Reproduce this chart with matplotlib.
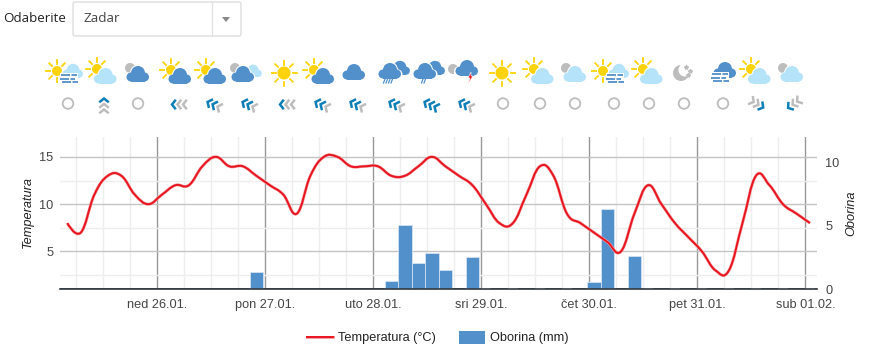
import numpy as np
import matplotlib
matplotlib.use('Agg')
import matplotlib.pyplot as plt
from matplotlib.path import Path
from matplotlib.patches import PathPatch, Circle, Rectangle, FancyBboxPatch, Polygon

temps = [8, 7, 11, 13, 13, 11, 10, 11, 12, 12, 14, 15, 14, 14, 13, 12, 11, 9, 13, 15, 15, 14, 14, 14, 13, 13, 14, 15,
         14, 13, 12, 10, 8, 8, 11, 14, 13, 9, 8, 7, 6, 5, 9, 12, 10, 8, 6.5, 5, 3, 3, 8, 13, 12, 10, 9, 8]
rain_k = [14, 24, 25, 26, 27, 28, 30, 39, 40, 42]
rain = [1.36, 0.66, 5.07, 2.07, 2.86, 1.52, 2.55, 0.58, 6.33, 2.63]
trace_k = [31, 33, 35, 37, 43, 45, 47, 49, 51, 53, 55]
trace = [0.08] * len(trace_k)
hours = np.array([-20 + 3 * i for i in range(len(temps))], dtype=float)
day_labels = ['ned 26.01.', 'pon 27.01.', 'uto 28.01.', 'sri 29.01.', 'čet 30.01.', 'pet 31.01.', 'sub 01.02.']
weather = ['sunfog', 'sunlight', 'moonblue', 'sunblue', 'sunblue', 'moonboth', 'sun', 'sunblue', 'blue', 'rain', 'sleet',
           'storm', 'sun', 'sunlight', 'moonlight', 'sunfog', 'sunlight', 'night', 'bluefog', 'sunlight', 'moonlight']
weather_x = [67, 102, 137, 176, 211, 246, 284, 319, 354, 393, 428, 463, 502, 539, 574, 613, 648, 683, 722, 756, 791]
wind = ['o', 'u', 'o', 'l', 'ul', 'ul', 'l', 'ul', 'ul', 'ul', 'ulb', 'ul', 'o', 'o', 'o', 'o', 'o', 'o', 'o', 'dr', 'dl']

BLUE = '#5290cc'
LIGHT = '#b5e3fa'
YEL = '#ffd30a'
GRAY = '#bdbdbd'
WIND = '#0f7fb8'
FONT = 'Liberation Sans'
W, H = 873, 353

fig = plt.figure(figsize=(8.73, 3.53), dpi=100)
ax = fig.add_axes([60.3 / W, 1 - 289.3 / H, (817 - 60.3) / W, (289.3 - 137) / H])
ax.set_ylim(1, 17.1)
ax.set_yticks([5, 10, 15])
ax.set_yticks([2.5, 7.5, 12.5], minor=True)
ax.set_xticks(np.arange(7) * 24)
ax.set_xticklabels(day_labels, fontsize=9.2, family=FONT, color='#444444')
ax.set_xticks([h for h in np.arange(-18, 156, 6) if h % 24 != 0], minor=True)
ax.grid(True, which='major', axis='y', color='#c4c4c4', lw=1)
ax.grid(True, which='major', axis='x', color='#999999', lw=1)
ax.grid(True, which='minor', color='#eeeeee', lw=1)
ax.set_axisbelow(True)
for s in ['top', 'left', 'right']:
    ax.spines[s].set_visible(False)
ax.spines['bottom'].set_color('#333a40')
ax.spines['bottom'].set_linewidth(1.2)
ax.tick_params(which='both', length=0)
ax.tick_params(axis='x', pad=7)
ax.tick_params(axis='y', labelsize=9.2, labelcolor='#444444', pad=5)
for t in ax.get_yticklabels():
    t.set_family(FONT)

ax2 = ax.twinx()
ax2.set_ylim(0, 12)
ax2.set_yticks([0, 5, 10])
ax2.tick_params(length=0, labelsize=9.2, labelcolor='#444444', pad=6)
for t in ax2.get_yticklabels():
    t.set_family(FONT)
for s in ax2.spines.values():
    s.set_visible(False)
ax2.bar(hours[rain_k], rain, width=3, color=BLUE, edgecolor='#dce8f4', linewidth=0.5, zorder=2)
ax2.bar(hours[trace_k], trace, width=2.4, bottom=0.06, color='#e4edf6', linewidth=0, zorder=2)


def spline_path(x, y, smooth=1.5):
    # same control point rule as the highcharts spline
    verts = [(x[0], y[0])]
    codes = [Path.MOVETO]
    right = (x[0], y[0])
    for i in range(1, len(x)):
        if i < len(x) - 1:
            lx = (smooth * x[i] + x[i - 1]) / (smooth + 1)
            ly = (smooth * y[i] + y[i - 1]) / (smooth + 1)
            rx = (smooth * x[i] + x[i + 1]) / (smooth + 1)
            ry = (smooth * y[i] + y[i + 1]) / (smooth + 1)
            if rx != lx:
                c = (ry - ly) / (rx - lx)
                ly = ly + (y[i] - (ly + c * (x[i] - lx)))
                ry = ry + (y[i] - (ry + c * (x[i] - rx)))
        else:
            lx, ly = x[i], y[i]
            rx, ry = x[i], y[i]
        verts += [right, (lx, ly), (x[i], y[i])]
        codes += [Path.CURVE4] * 3
        right = (rx, ry)
    return Path(verts, codes)


# line goes above the bars, so it lives on a third overlay
ax3 = ax.twinx()
ax3.set_ylim(ax.get_ylim())
ax3.axis('off')
ax3.axhline(1, color='#333a40', lw=1.2, zorder=2.5)
p = spline_path(list(hours), temps)
ax3.add_patch(PathPatch(p, fc='none', ec='#f5a3a6', lw=2.2, zorder=3))
ax3.add_patch(PathPatch(p, fc='none', ec='#e8141f', lw=1.4, zorder=4))

# twins and bars mess with the shared limits, set them last
ax.set_xlim(-20 - 0.52 * 3, -20 + 55.52 * 3)

# page layer in pixels for the widgets and icons
pg = fig.add_axes([0, 0, 1, 1], zorder=5)
pg.set_xlim(0, W)
pg.set_ylim(H, 0)
pg.axis('off')


def cloud(cx, cy, s, col, z=6, ring=False):
    if ring:
        cloud(cx, cy, s * 1.14, 'white', z - 0.2)
    for dx, dy, r in [(-7, 3, 4.5), (0, -1, 7), (6.5, 3, 4.5)]:
        pg.add_patch(Circle((cx + dx * s, cy + dy * s), r * s, fc=col, ec='none', zorder=z))
    pg.add_patch(Rectangle((cx - 7 * s, cy + 1 * s), 13.5 * s, 6.5 * s, fc=col, ec='none', zorder=z))


def sun(cx, cy, r=6.5, ray=4):
    pg.add_patch(Circle((cx, cy), r, fc=YEL, ec='none', zorder=5))
    for a in np.arange(8) * np.pi / 4:
        pg.plot([cx + (r + 2) * np.cos(a), cx + (r + 2 + ray) * np.cos(a)],
                [cy + (r + 2) * np.sin(a), cy + (r + 2 + ray) * np.sin(a)], color=YEL, lw=1.3, zorder=5)


def fog(cx, cy):
    for i, (a, b) in enumerate([(-8, 8), (-9, 6), (-7, 9)]):
        pg.plot([cx + a, cx + b], [cy + i * 3.6, cy + i * 3.6], color=BLUE, lw=1.3, ls=(0, (5, 0.8)), zorder=7)


def moon(cx, cy, r=6):
    pg.add_patch(Circle((cx, cy), r, fc=GRAY, ec='none', zorder=4))


def weather_icon(kind, x, y=73):
    if kind == 'sun':
        sun(x, y)
    elif kind == 'sunlight':
        sun(x - 5, y - 4, 5, 4)
        cloud(x + 3.5, y + 3, 1, LIGHT, ring=True)
    elif kind == 'sunblue':
        sun(x - 5, y - 3, 5, 4)
        cloud(x + 4, y + 3, 1, BLUE, ring=True)
    elif kind == 'sunfog':
        sun(x - 10, y - 2, 5, 4)
        cloud(x + 6, y - 2, 0.9, LIGHT, ring=True)
        pg.add_patch(Rectangle((x - 7, y), 18, 11, fc='white', ec='none', zorder=6.5))
        fog(x + 2, y + 2)
    elif kind == 'moonblue':
        moon(x - 7, y - 5, 5)
        cloud(x + 1, y + 1, 1, BLUE, ring=True)
    elif kind == 'moonlight':
        moon(x - 8, y - 5, 5)
        cloud(x + 1, y + 1, 1, LIGHT, ring=True)
    elif kind == 'moonboth':
        moon(x - 11, y - 5, 5)
        cloud(x + 7, y - 2, 0.8, LIGHT, 5)
        cloud(x - 3, y + 1, 1, BLUE, ring=True)
    elif kind == 'blue':
        cloud(x, y - 1, 1, BLUE)
    elif kind in ('rain', 'sleet'):
        cloud(x + 7, y - 5, 0.9, BLUE, 5)
        cloud(x - 3, y - 2, 1, BLUE, ring=True)
        xs = np.arange(-8, 2, 2.5) if kind == 'rain' else np.arange(-5, 0, 2.5)
        for dx in xs:
            pg.plot([x + dx, x + dx - 1.5], [y + 6, y + 10], color=BLUE, lw=0.9, zorder=7)
    elif kind == 'storm':
        moon(x - 10, y - 4, 5)
        cloud(x + 4, y - 5, 1, BLUE, ring=True)
        pg.add_patch(Polygon([(x + 8, y - 1), (x + 5, y + 5), (x + 7, y + 5), (x + 5, y + 11), (x + 10, y + 3), (x + 8, y + 3)],
                             fc='#e8141f', ec='white', lw=0.4, zorder=7))
    elif kind == 'night':
        moon(x - 2, y, 8)
        pg.add_patch(Circle((x + 2, y - 3), 6.5, fc='white', ec='none', zorder=4.5))
        for dx, dy in [(3, -6), (7, -2), (5, 2)]:
            pg.plot(x + dx, y + dy, marker='*', ms=3, color=GRAY, zorder=5)
    elif kind == 'bluefog':
        cloud(x + 3, y - 3, 1, BLUE)
        pg.add_patch(Rectangle((x - 10, y - 1), 17, 12, fc='white', ec='none', zorder=6.5))
        fog(x - 2, y + 1)


def wind_icon(kind, x, y=104.5):
    if kind == 'o':
        pg.add_patch(Circle((x + 1, y - 1), 5.3, fc='none', ec=GRAY, lw=1.3, zorder=6))
        return
    ang = {'u': -90, 'l': 180, 'ul': -155, 'ulb': -155, 'dr': 30, 'dl': 145}[kind]
    nblue = {'u': 1, 'l': 1, 'ul': 2, 'ulb': 3, 'dr': 1, 'dl': 1}[kind]
    a = np.radians(ang)
    ux, uy = np.cos(a), np.sin(a)
    vx, vy = -uy, ux
    x = x + 2
    for i in range(3):
        tx, ty = x + ux * (6 - 5.5 * i), y + uy * (6 - 5.5 * i)
        col = WIND if i < nblue else GRAY
        pg.plot([tx - ux * 3 + vx * 3.8, tx, tx - ux * 3 - vx * 3.8],
                [ty - uy * 3 + vy * 3.8, ty, ty - uy * 3 - vy * 3.8],
                color=col, lw=1.8, solid_joinstyle='miter', zorder=6)


for k, wx in zip(weather, weather_x):
    weather_icon(k, wx)
for k, wx in zip(wind, weather_x):
    wind_icon(k, wx)

pg.text(28, 212, 'Temperatura', fontsize=9.2, family=FONT, style='italic', color='#222222',
        rotation=90, va='center', ha='center')
pg.text(851, 213, 'Oborina', fontsize=9.2, family=FONT, style='italic', color='#222222',
        rotation=90, va='center', ha='center')

pg.text(3, 19, 'Odaberite', fontsize=9.6, family='Open Sans', color='#222222', va='center')
pg.add_patch(FancyBboxPatch((73, 2), 168, 34, boxstyle='round,pad=0,rounding_size=2', fc='white', ec='#dddddd', lw=1))
pg.plot([211.5, 211.5], [2, 36], color='#e2e2e2', lw=1)
pg.add_patch(Polygon([(222, 17), (230, 17), (226, 22)], fc='#888888', ec='none'))
pg.text(83, 18.5, 'Zadar', fontsize=9.7, family='Open Sans', color='#444444', va='center')

pg.plot([307, 333], [337, 337], color='#f5a3a6', lw=2.2)
pg.plot([307, 333], [337, 337], color='#e8141f', lw=1.4)
pg.text(338.5, 337.5, 'Temperatura (°C)', fontsize=9.2, family=FONT, color='#222222', va='center')
pg.add_patch(Rectangle((459, 331), 26, 13, fc=BLUE, ec='none'))
pg.text(490.5, 337.5, 'Oborina (mm)', fontsize=9.2, family=FONT, color='#222222', va='center')

fig.savefig('out.png', dpi=100)
